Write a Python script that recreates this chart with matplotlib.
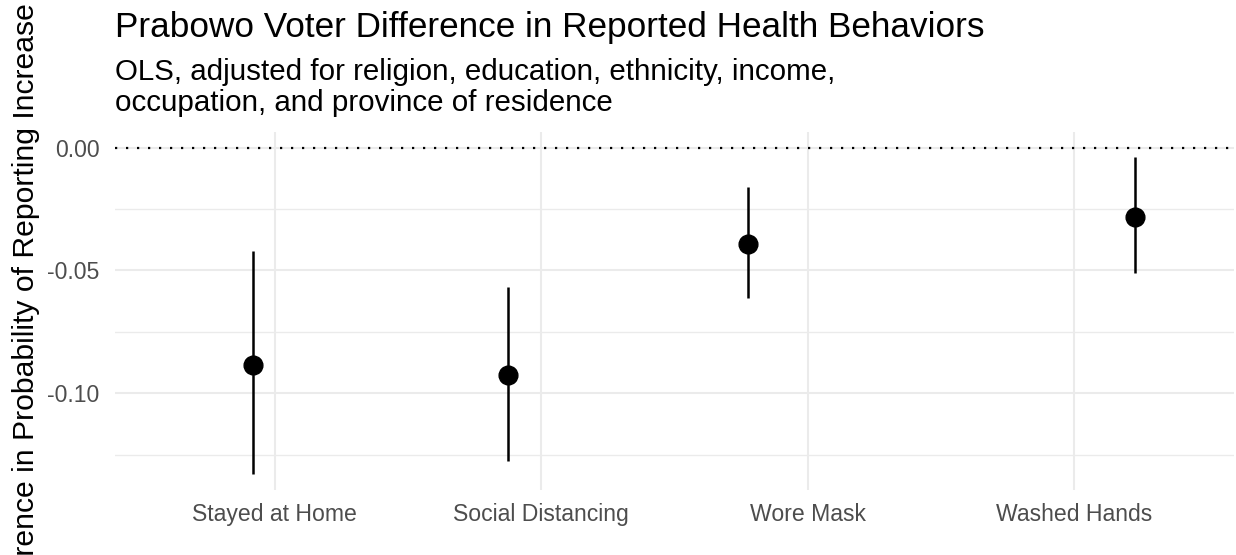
import matplotlib
matplotlib.use("Agg")
import matplotlib.pyplot as plt
from matplotlib.ticker import FixedLocator, FormatStrFormatter

# ── Data ──────────────────────────────────────────────────────────────────────
behaviors = ["Stayed at Home", "Social Distancing", "Wore Mask", "Washed Hands"]
estimate = [-0.0887, -0.0926, -0.0391, -0.0283]
ci_low = [-0.1329, -0.1276, -0.0611, -0.0509]
ci_high = [-0.0421, -0.0566, -0.0161, -0.0037]
jitter = [-0.082, -0.125, -0.225, 0.229]

major_ticks = [0.0, -0.05, -0.10]
minor_ticks = [-0.025, -0.075, -0.125]

# ── Style ──────────────────────────────────────────────────────────────────────
GRID = "#EBEBEB"
TICK_TEXT = "#4D4D4D"

plt.rcParams.update({
    "font.family": ["Liberation Sans", "DejaVu Sans"],
    "axes.unicode_minus": False,
})

fig = plt.figure(figsize=(12.36, 5.55), dpi=100)
ax = fig.add_axes([115 / 1236, 1 - 490 / 555, 1119 / 1236, 358.3 / 555])

xs = [i + j for i, j in enumerate(jitter)]

# zero reference line
ax.axhline(0, color="black", linewidth=1.6, linestyle=(0, (1, 3.95)), zorder=2)

for x, est, lo, hi in zip(xs, estimate, ci_low, ci_high):
    ax.plot([x, x], [lo, hi], color="black", linewidth=1.8, solid_capstyle="butt", zorder=3)
ax.plot(xs, estimate, "o", color="black", markersize=13.5, zorder=4)

ax.set_xlim(-0.6, len(behaviors) - 1 + 0.6)
ax.set_ylim(-0.1394, 0.0065)

ax.set_xticks(range(len(behaviors)))
ax.set_xticklabels(behaviors)
ax.yaxis.set_major_locator(FixedLocator(major_ticks))
ax.yaxis.set_minor_locator(FixedLocator(minor_ticks))
ax.yaxis.set_major_formatter(FormatStrFormatter("%.2f"))

ax.grid(True, which="major", color=GRID, linewidth=1.5, zorder=0)
ax.grid(True, which="minor", axis="y", color=GRID, linewidth=1.0, zorder=0)
ax.set_axisbelow(True)

for side in ax.spines.values():
    side.set_visible(False)

ax.tick_params(axis="both", which="both", length=0, labelsize=16.6, labelcolor=TICK_TEXT)
ax.tick_params(axis="y", pad=11)
ax.tick_params(axis="x", pad=9.5)

# long label runs past the figure edge, as in the original report layout
ax.set_ylabel("Difference in Probability of Reporting Increase", fontsize=21.7,
              color="black", va="center", ha="center")
ax.yaxis.set_label_coords((26.5 - 115) / 1119, (490 - 310.5) / 358.3)

fig.text(115 / 1236, 1 - 37 / 555, "Prabowo Voter Difference in Reported Health Behaviors",
         fontsize=25.3, color="black", ha="left", va="baseline")
fig.text(115 / 1236, 1 - 58.5 / 555,
         "OLS, adjusted for religion, education, ethnicity, income,\n"
         "occupation, and province of residence",
         fontsize=21.25, color="black", ha="left", va="top", linespacing=1.1)

fig.savefig("out.png", dpi=100, facecolor="white")
plt.close(fig)
